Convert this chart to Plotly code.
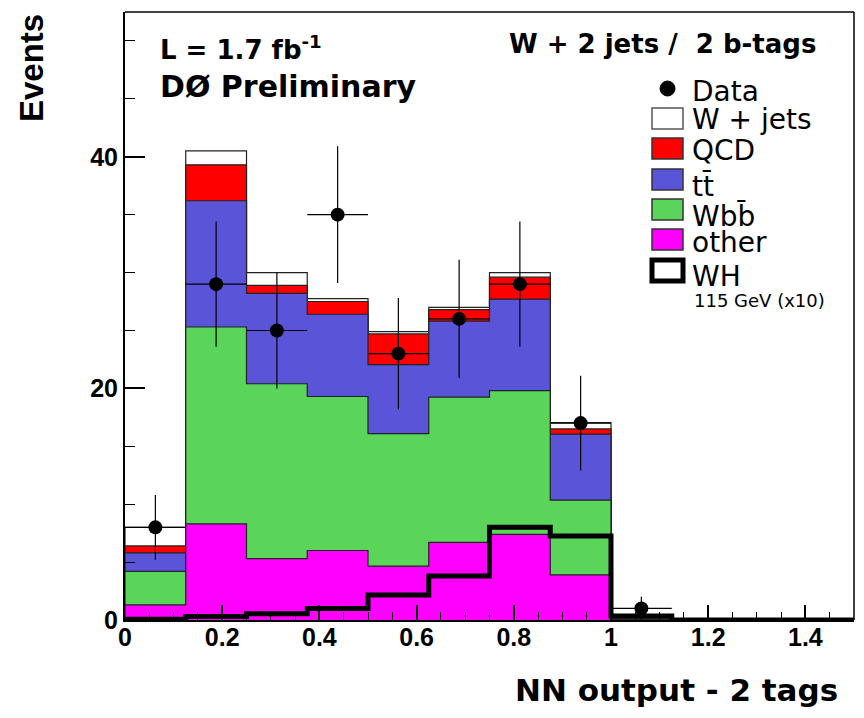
import plotly.graph_objects as go

# ---------------- data ----------------
bin_edges = [0.0, 0.125, 0.25, 0.375, 0.5, 0.625, 0.75, 0.875, 1.0, 1.125, 1.25, 1.375, 1.5]
other = [1.3, 8.3, 5.3, 6.0, 4.65, 6.7, 7.4, 3.9, 0.05, 0, 0, 0]
wbb   = [2.9, 17.0, 15.1, 13.3, 11.45, 12.55, 12.4, 6.45, 0.1, 0, 0, 0]
ttbar = [1.6, 10.9, 7.8, 7.1, 5.95, 6.55, 7.9, 5.7, 0.05, 0, 0, 0]
qcd   = [0.6, 3.1, 0.7, 1.1, 2.65, 1.0, 1.9, 0.45, 0.0, 0, 0, 0]
wjets = [1.6, 1.2, 1.1, 0.25, 0.2, 0.2, 0.4, 0.55, 0.1, 0, 0, 0]
wh_x10 = [0.06, 0.3, 0.55, 1.0, 2.15, 3.8, 8.0, 7.25, 0.35, 0, 0, 0]
data     = [8, 29, 25, 35, 23, 26, 29, 17, 1, 0, 0, 0]
data_err = [2.8, 5.4, 5.0, 5.9, 4.8, 5.1, 5.4, 4.1, 1.0, 0, 0, 0]

x_ticks = [0, 0.2, 0.4, 0.6, 0.8, 1.0, 1.2, 1.4]
x_ticklabels = ["0", "0.2", "0.4", "0.6", "0.8", "1", "1.2", "1.4"]
y_ticks = [0, 20, 40]
y_ticklabels = ["0", "20", "40"]

layer_names = ["other", "Wbb", "ttbar", "QCD", "W + jets"]
layers = [other, wbb, ttbar, qcd, wjets]
colors = ["#FF00FF", "#5AD55A", "#5A55D8", "#FF0000", "#FFFFFF"]

# ---------------- figure ----------------
fig = go.Figure()

def step_xy(vals):
    xs = [bin_edges[0]] + list(bin_edges) + [bin_edges[-1]]
    ys = [0] + list(vals) + [vals[-1], 0]
    return xs, ys

# cumulative stacks
cum = []
run = [0.0] * len(other)
for lay in layers:
    run = [a + b for a, b in zip(run, lay)]
    cum.append(run)

# draw from top of stack down so lower layers overlay
for i in reversed(range(len(layers))):
    xs, ys = step_xy(cum[i])
    fig.add_trace(go.Scatter(
        x=xs, y=ys, mode="lines", line_shape="hv",
        line=dict(color="#222222", width=1.2),
        fill="tozeroy", fillcolor=colors[i],
        name=layer_names[i], showlegend=False, hoverinfo="skip"))

# WH signal (x10)
xs, ys = step_xy(wh_x10)
fig.add_trace(go.Scatter(
    x=xs, y=ys, mode="lines", line_shape="hv",
    line=dict(color="black", width=5),
    name="WH", showlegend=False, hoverinfo="skip"))

# data points
centers = [(bin_edges[i] + bin_edges[i + 1]) / 2 for i in range(len(data))]
dx, dy, de = [], [], []
for c, d, e in zip(centers, data, data_err):
    if d > 0:
        dx.append(c); dy.append(d); de.append(e)
half_w = (bin_edges[1] - bin_edges[0]) / 2
fig.add_trace(go.Scatter(
    x=dx, y=dy, mode="markers",
    marker=dict(color="black", size=14, symbol="circle"),
    error_y=dict(type="data", array=de, width=0, thickness=1.2, color="black"),
    error_x=dict(type="constant", value=half_w, width=0, thickness=1.2, color="black"),
    name="Data", showlegend=False, hoverinfo="skip"))

# ---------------- layout ----------------
L, R, T, B = 125, 10, 12, 98
W, H = 864, 718
pw, ph = W - L - R, H - T - B

def px(x):
    return (x - L) / pw

def py(y):
    return (H - B - y) / ph

tickfont = dict(family="Liberation Sans, Arial, sans-serif", size=25, color="black", weight="bold")

fig.update_layout(
    width=W, height=H,
    margin=dict(l=L, r=R, t=T, b=B, pad=0),
    paper_bgcolor="white", plot_bgcolor="white",
    showlegend=False,
    xaxis=dict(range=[0, 1.5], tickvals=x_ticks, ticktext=x_ticklabels,
               ticks="inside", ticklen=15, tickwidth=1.5, tickcolor="black",
               minor=dict(dtick=0.05, ticks="inside", ticklen=8, tickwidth=1.2, tickcolor="black"),
               showline=True, linecolor="black", linewidth=2,
               showgrid=False, zeroline=False, tickfont=tickfont, ticklabelstandoff=-6),
    yaxis=dict(range=[0, 52.5], tickvals=y_ticks, ticktext=y_ticklabels,
               ticks="inside", ticklen=20, tickwidth=1.5, tickcolor="black",
               minor=dict(dtick=5, ticks="inside", ticklen=10, tickwidth=1.2, tickcolor="black"),
               showline=True, linecolor="black", linewidth=2,
               showgrid=False, zeroline=False, tickfont=tickfont, ticklabelstandoff=0),
)

shapes = []
# frame top and right
shapes.append(dict(type="line", xref="paper", yref="paper", x0=0, x1=1, y0=1, y1=1,
                   line=dict(color="black", width=1.5)))
shapes.append(dict(type="line", xref="paper", yref="paper", x0=1, x1=1, y0=0, y1=1,
                   line=dict(color="black", width=1.5)))

# legend
bx0, bx1 = 652, 683
legend_boxes = [
    (108, 129, "#FFFFFF", "#555555", 1.5),
    (138, 159, "#FF0000", "#333333", 1.5),
    (169, 190, "#5A55D8", "#333333", 1.5),
    (199, 220, "#5AD55A", "#333333", 1.5),
    (229, 250, "#FF00FF", "#333333", 1.5),
    (260, 281, "#FFFFFF", "#000000", 5),
]
for y0, y1, fc, lc, lw in legend_boxes:
    shapes.append(dict(type="rect", xref="paper", yref="paper",
                       x0=px(bx0), x1=px(bx1), y0=py(y1), y1=py(y0),
                       fillcolor=fc, line=dict(color=lc, width=lw)))
shapes.append(dict(type="circle", xref="paper", yref="paper",
                   x0=px(660), x1=px(675), y0=py(96), y1=py(81),
                   fillcolor="black", line=dict(color="black", width=1)))
fig.update_layout(shapes=shapes)

ann = []
legfont = dict(family="DejaVu Sans", size=28, color="black")
for txt, yc in [("Data", 92), ("W + jets", 119), ("QCD", 151), ("tt\u0304", 186),
                ("Wbb\u0304", 216), ("other", 242), ("WH", 276)]:
    ann.append(dict(text=txt, xref="paper", yref="paper", x=px(690), y=py(yc),
                    xanchor="left", yanchor="middle", showarrow=False, font=legfont))
ann.append(dict(text="115 GeV (x10)", xref="paper", yref="paper", x=px(692), y=py(300),
                xanchor="left", yanchor="middle", showarrow=False,
                font=dict(family="DejaVu Sans", size=18, color="black")))

ann.append(dict(text="<b>L = 1.7 fb<sup>-1</sup></b>", xref="paper", yref="paper",
                x=px(158), y=py(48), xanchor="left", yanchor="middle", showarrow=False,
                font=dict(family="DejaVu Sans", size=26, color="black")))
ann.append(dict(text="<b>D\u00d8 Preliminary</b>", xref="paper", yref="paper",
                x=px(158), y=py(87), xanchor="left", yanchor="middle", showarrow=False,
                font=dict(family="DejaVu Sans", size=30, color="black")))
ann.append(dict(text="<b>W + 2 jets /\u00a0 2 b-tags</b>", xref="paper", yref="paper",
                x=px(507), y=py(44), xanchor="left", yanchor="middle", showarrow=False,
                font=dict(family="DejaVu Sans", size=26, color="black")))
ann.append(dict(text="<b>NN output - 2 tags</b>", xref="paper", yref="paper",
                x=px(840), y=py(690), xanchor="right", yanchor="middle", showarrow=False,
                font=dict(family="DejaVu Sans", size=31, color="black")))
ann.append(dict(text="<b>Events</b>", xref="paper", yref="paper",
                x=px(32), y=py(68), xanchor="center", yanchor="middle", showarrow=False,
                textangle=-90, font=dict(family="Liberation Sans, Arial", size=33, color="black")))
fig.update_layout(annotations=ann)

fig.write_html("out.html")
